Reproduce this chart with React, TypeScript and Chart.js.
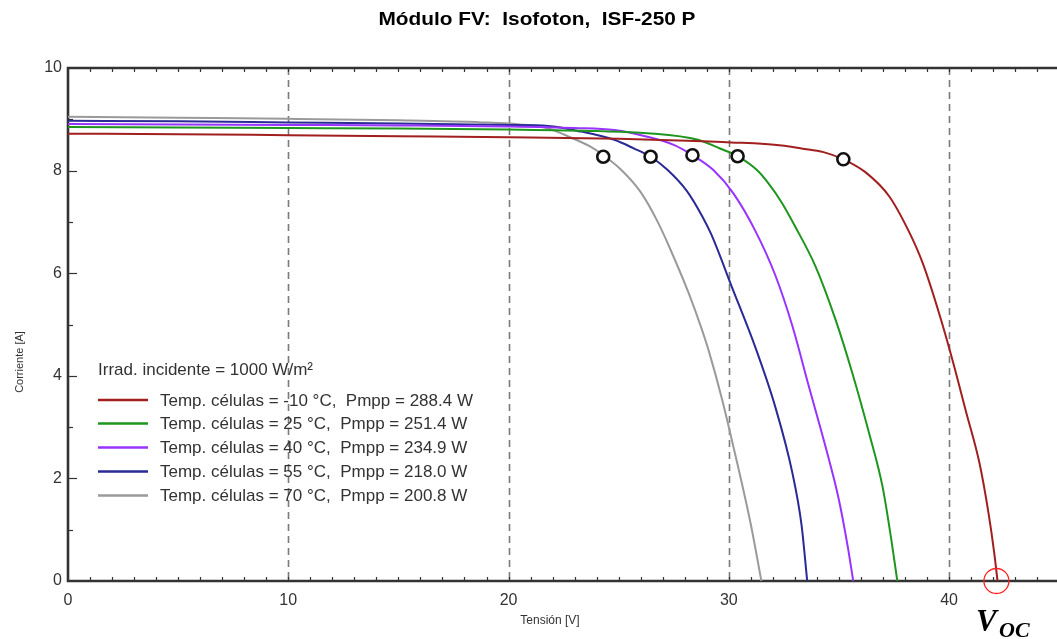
import React, { useEffect, useRef } from 'react';
import { Chart, registerables } from 'chart.js';

Chart.register(...registerables);

const TITLE = 'Módulo FV:  Isofoton,  ISF-250 P';
const X_TITLE = 'Tensión [V]';
const Y_TITLE = 'Corriente [A]';
const IRRAD_LABEL = 'Irrad. incidente = 1000 W/m²';
const SERIES_LABELS = [
  'Temp. células = -10 °C,  Pmpp = 288.4 W',
  'Temp. células = 25 °C,  Pmpp = 251.4 W',
  'Temp. células = 40 °C,  Pmpp = 234.9 W',
  'Temp. células = 55 °C,  Pmpp = 218.0 W',
  'Temp. células = 70 °C,  Pmpp = 200.8 W',
];
const SERIES_COLORS = ['#a11f1f', '#1e961e', '#9933ff', '#2a2a96', '#9a9a9a'];

// -10 °C
const vM10 = [0, 5, 10, 15, 20, 25, 28.8, 30.1, 32.4, 33.3, 34.3, 35.2, 36.2, 37.28, 38.19, 38.8, 39.56, 40.16, 40.77, 41.38, 41.8, 42.05, 42.2];
const iM10 = [8.72, 8.71, 8.69, 8.67, 8.65, 8.62, 8.57, 8.55, 8.49, 8.43, 8.36, 8.22, 7.97, 7.5, 6.8, 6.2, 5.2, 4.3, 3.3, 2.3, 1.3, 0.55, 0];
// 25 °C
const v25 = [0, 5, 10, 15, 20, 24, 26.3, 28.6, 29.6, 30.4, 31.3, 31.8, 32.4, 33.0, 33.94, 34.85, 35.61, 36.37, 36.98, 37.38, 37.65];
const i25 = [8.85, 8.84, 8.83, 8.82, 8.8, 8.77, 8.73, 8.6, 8.43, 8.28, 8.0, 7.75, 7.38, 6.92, 6.13, 5.09, 4.05, 2.88, 1.84, 0.8, 0];
// 40 °C
const v40 = [0, 5, 10, 15, 20, 23, 24.8, 26.3, 27.5, 28.35, 29.3, 30.2, 31.21, 32.12, 32.88, 33.63, 34.39, 35.0, 35.4, 35.65];
const i40 = [8.91, 8.9, 8.89, 8.88, 8.86, 8.83, 8.79, 8.66, 8.5, 8.3, 8.01, 7.56, 6.82, 5.95, 4.98, 3.8, 2.62, 1.58, 0.67, 0];
// 55 °C
const v55 = [0, 5, 10, 15, 20, 21.8, 23.3, 24.8, 25.7, 26.45, 27.2, 28.1, 28.78, 29.2, 30.15, 31.21, 32.12, 32.88, 33.3, 33.56];
const i55 = [8.97, 8.96, 8.94, 8.92, 8.89, 8.87, 8.76, 8.6, 8.43, 8.27, 8.02, 7.6, 7.12, 6.76, 5.72, 4.55, 3.38, 2.12, 1.1, 0];
// 70 °C
const v70 = [0, 5, 10, 15, 18.8, 20.5, 21.8, 22.8, 23.7, 24.3, 25.1, 26.0, 26.75, 27.26, 28.17, 28.78, 29.08, 29.69, 30.3, 31.0, 31.48];
const i70 = [9.05, 9.03, 9.01, 8.98, 8.94, 8.9, 8.82, 8.65, 8.47, 8.3, 8.02, 7.58, 7.02, 6.55, 5.62, 4.9, 4.5, 3.55, 2.45, 1.1, 0];

// maximum power points
const mppV = [35.2, 30.4, 28.35, 26.45, 24.3];
const mppI = [8.22, 8.28, 8.3, 8.27, 8.27];
// open-circuit voltage marker
const vocV = [42.15];
const vocI = [0];

const X_TICK_LABELS = [0, 10, 20, 30, 40];
const Y_TICK_LABELS = [0, 2, 4, 6, 8, 10];
const X_GRID = [10, 20, 30, 40];

const FONT = '"Liberation Sans", Arial, sans-serif';

const toXY = (xs: number[], ys: number[]) => xs.map((x, k) => ({ x, y: ys[k] }));

const framePlugin = {
  id: 'frame',
  beforeDatasetsDraw(chart: any) {
    const { ctx, chartArea: a, scales } = chart;
    const x = scales.x;
    const y = scales.y;
    ctx.save();
    // dashed vertical grid
    ctx.strokeStyle = '#7a7a7a';
    ctx.lineWidth = 1.6;
    ctx.setLineDash([7, 5]);
    for (const v of X_GRID) {
      const px = Math.round(x.getPixelForValue(v)) + 0.5;
      ctx.beginPath();
      ctx.moveTo(px, a.top);
      ctx.lineTo(px, a.bottom);
      ctx.stroke();
    }
    ctx.setLineDash([]);
    // minor ticks
    ctx.strokeStyle = '#333';
    ctx.lineWidth = 1.2;
    for (let v = 1; v < 46; v++) {
      const px = Math.round(x.getPixelForValue(v)) + 0.5;
      if (px > a.right) break;
      ctx.beginPath();
      ctx.moveTo(px, a.bottom);
      ctx.lineTo(px, a.bottom - 4);
      ctx.moveTo(px, a.top);
      ctx.lineTo(px, a.top + 4);
      ctx.stroke();
    }
    for (let v = 1; v < 10; v++) {
      const py = Math.round(y.getPixelForValue(v)) + 0.5;
      const len = v % 2 === 0 ? 9 : 5;
      ctx.beginPath();
      ctx.moveTo(a.left, py);
      ctx.lineTo(a.left + len, py);
      ctx.stroke();
    }
    // frame
    ctx.strokeStyle = '#333';
    ctx.lineWidth = 2.6;
    ctx.beginPath();
    ctx.moveTo(a.right + 2, a.top);
    ctx.lineTo(a.left, a.top);
    ctx.lineTo(a.left, a.bottom);
    ctx.lineTo(a.right + 2, a.bottom);
    ctx.stroke();
    ctx.restore();
  },
  afterDraw(chart: any) {
    const { ctx } = chart;
    ctx.save();
    // title
    ctx.fillStyle = '#000';
    ctx.font = `bold 19px ${FONT}`;
    ctx.textAlign = 'center';
    ctx.textBaseline = 'middle';
    const tw = ctx.measureText(TITLE).width;
    ctx.save();
    ctx.translate(537, 20);
    ctx.scale(317 / tw, 1);
    ctx.fillText(TITLE, 0, 0);
    ctx.restore();
    // axis titles
    ctx.fillStyle = '#333';
    ctx.font = `12px ${FONT}`;
    ctx.fillText(X_TITLE, 550, 621);
    ctx.save();
    ctx.translate(20, 362);
    ctx.rotate(-Math.PI / 2);
    ctx.font = `11px ${FONT}`;
    ctx.fillText(Y_TITLE, 0, 0);
    ctx.restore();
    // legend
    ctx.textAlign = 'left';
    ctx.font = `17px ${FONT}`;
    ctx.fillStyle = '#333';
    ctx.fillText(IRRAD_LABEL, 98, 370);
    const rows = [400, 423.5, 447.5, 471.5, 495.5];
    SERIES_LABELS.forEach((lab, k) => {
      ctx.strokeStyle = SERIES_COLORS[k];
      ctx.lineWidth = 2.6;
      ctx.beginPath();
      ctx.moveTo(98, rows[k]);
      ctx.lineTo(148, rows[k]);
      ctx.stroke();
      ctx.fillStyle = '#333';
      ctx.fillText(lab, 160, rows[k] + 1);
    });
    // V_OC annotation
    ctx.fillStyle = '#000';
    ctx.textBaseline = 'alphabetic';
    ctx.font = `bold italic 31px "Liberation Serif", "DejaVu Serif", serif`;
    ctx.fillText('V', 976, 631);
    ctx.font = `bold italic 22px "Liberation Serif", "DejaVu Serif", serif`;
    ctx.fillText('OC', 999, 637);
    ctx.restore();
  },
};

export default function App() {
  const ref = useRef<HTMLCanvasElement | null>(null);
  useEffect(() => {
    if (!ref.current) return;
    const curves = [
      toXY(vM10, iM10),
      toXY(v25, i25),
      toXY(v40, i40),
      toXY(v55, i55),
      toXY(v70, i70),
    ];
    const chart = new Chart(ref.current, {
      type: 'line',
      data: {
        datasets: [
          {
            label: 'MPP',
            data: toXY(mppV, mppI),
            showLine: false,
            pointRadius: 6,
            pointBorderWidth: 2.6,
            pointBorderColor: '#111',
            pointBackgroundColor: '#fff',
            order: 0,
          } as any,
          {
            label: 'Voc',
            data: toXY(vocV, vocI),
            showLine: false,
            pointRadius: 12.5,
            pointBorderWidth: 1.3,
            pointBorderColor: '#ff2020',
            pointBackgroundColor: 'rgba(0,0,0,0)',
            clip: false,
            order: 0,
          } as any,
          ...curves.map((d, k) => ({
            label: SERIES_LABELS[k],
            data: d,
            borderColor: SERIES_COLORS[k],
            borderWidth: 2,
            pointRadius: 0,
            fill: false,
            cubicInterpolationMode: 'monotone',
            order: 1,
          } as any)),
        ],
      },
      options: {
        animation: false,
        responsive: false,
        events: [],
        layout: { autoPadding: false, padding: { top: 68, left: 0, right: 0, bottom: 0 } },
        plugins: { legend: { display: false }, title: { display: false }, tooltip: { enabled: false } },
        scales: {
          x: {
            type: 'linear',
            min: 0,
            max: 44.9,
            grid: { display: false, drawTicks: false, tickLength: 0 },
            border: { display: false },
            afterBuildTicks: (s: any) => { s.ticks = X_TICK_LABELS.map((v) => ({ value: v })); },
            afterFit: (s: any) => { s.height = 58; s.paddingLeft = 0; s.paddingRight = 0; },
            ticks: {
              autoSkip: false,
              maxRotation: 0,
              padding: 10,
              color: '#333',
              font: { family: FONT, size: 16 },
              callback: (v: any) => String(v),
            },
          },
          y: {
            type: 'linear',
            min: 0,
            max: 10,
            grid: { display: false, drawTicks: false, tickLength: 0 },
            border: { display: false },
            afterBuildTicks: (s: any) => { s.ticks = Y_TICK_LABELS.map((v) => ({ value: v })); },
            afterFit: (s: any) => { s.width = 68; s.paddingTop = 0; s.paddingBottom = 0; },
            ticks: {
              autoSkip: false,
              padding: 6,
              color: '#333',
              font: { family: FONT, size: 16 },
              callback: (v: any) => String(v),
            },
          },
        },
      },
      plugins: [framePlugin],
    });
    return () => chart.destroy();
  }, []);
  return (
    <div style={{ position: 'fixed', left: 0, top: 0, width: 1057, height: 639, background: '#fff' }}>
      <canvas ref={ref} width={1057} height={639} style={{ display: 'block' }} />
    </div>
  );
}
